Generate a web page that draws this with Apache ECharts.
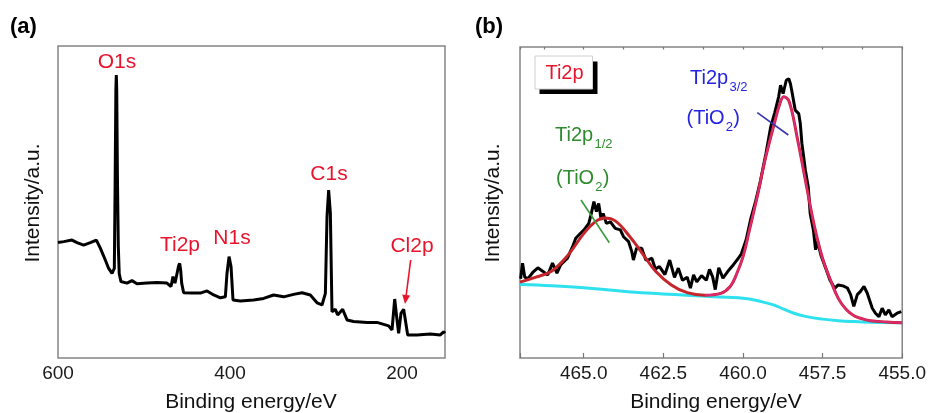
<!DOCTYPE html>
<html>
<head>
<meta charset="utf-8">
<script src="https://cdn.jsdelivr.net/npm/echarts@6/dist/echarts.min.js"></script>
<style>
html,body{margin:0;padding:0;background:#fff;}
#chart{width:929px;height:413px;}
</style>
</head>
<body>
<div id="chart"></div>
<script>
// ---------- Panel (a): XPS survey ----------
var surveyE = [600, 593.4, 583.7, 577.9, 570.2, 562.4, 555.4, 550.8, 545.0, 541.1, 537.2, 534.5, 533.6, 532.7, 532.2, 531.7, 530.9, 529.9, 528.8, 526.8, 519.8, 514.0, 508.2, 496.5, 484.9, 473.3, 468.6, 466.3, 464.8, 464.0, 461.6, 459.8, 458.5, 457.3, 456.2, 453.9, 444.2, 434.5, 426.7, 419.0, 411.2, 405.4, 403.5, 401.1, 398.8, 396.5, 388.0, 372.5, 360.9, 349.3, 337.6, 326.0, 316.3, 306.6, 298.8, 293.0, 289.1, 287.2, 285.3, 283.3, 281.4, 277.5, 274.8, 269.0, 263.9, 256.2, 240.7, 229.1, 215.5, 211.6, 208.5, 205.8, 203.9, 201.2, 198.1, 196.1, 193.4, 182.6, 167.1, 155.5, 151.6, 150];
var surveyI = [37.0, 37.3, 37.8, 37.0, 36.2, 37.0, 37.8, 35.2, 31.4, 28.7, 27.1, 28.7, 55.0, 86.0, 90.7, 86.0, 58.0, 36.0, 27.0, 24.5, 24.0, 24.8, 23.8, 24.0, 24.2, 24.0, 22.9, 26.1, 26.6, 24.0, 27.1, 29.5, 30.3, 28.0, 24.0, 20.9, 20.8, 20.8, 21.5, 20.2, 19.3, 19.6, 27.1, 32.5, 29.3, 18.6, 18.3, 18.6, 19.1, 20.2, 19.6, 20.4, 20.9, 20.2, 17.7, 17.0, 20.7, 45.3, 53.8, 46.4, 14.8, 15.6, 13.8, 15.6, 12.2, 11.7, 11.4, 11.4, 10.3, 9.0, 18.9, 12.2, 7.9, 14.3, 15.6, 12.2, 7.4, 7.4, 7.7, 7.4, 8.4, 7.9];

// ---------- Panel (b): Ti2p high resolution ----------
var rawE = [466.98, 466.92, 466.85, 466.75, 466.6, 466.44, 466.3, 466.13, 465.98, 465.84, 465.72, 465.51, 465.35, 465.25, 465.10, 464.99, 464.84, 464.76, 464.68, 464.60, 464.53, 464.45, 464.39, 464.29, 464.16, 464.01, 463.85, 463.75, 463.59, 463.49, 463.44, 463.34, 463.18, 463.05, 462.96, 462.86, 462.75, 462.62, 462.45, 462.3, 462.15, 462.03, 461.9, 461.75, 461.65, 461.55, 461.45, 461.3, 461.15, 461.05, 460.95, 460.87, 460.76, 460.63, 460.48, 460.3, 460.15, 460.05, 459.9, 459.75, 459.6, 459.45, 459.28, 459.13, 459.0, 458.88, 458.82, 458.74, 458.64, 458.56, 458.51, 458.46, 458.36, 458.25, 458.20, 458.15, 458.04, 457.95, 457.89, 457.79, 457.72, 457.66, 457.55, 457.48, 457.37, 457.27, 457.12, 457.01, 456.86, 456.72, 456.62, 456.52, 456.41, 456.31, 456.2, 456.1, 455.94, 455.84, 455.73, 455.63, 455.53, 455.42, 455.32, 455.16, 455.03];
var rawI = [25.5, 30.5, 26.0, 25.5, 27.5, 29.0, 28.0, 26.7, 30.5, 27.3, 30.0, 32.1, 35.8, 38.5, 40.1, 41.2, 43.3, 46.5, 50.3, 47.1, 49.7, 44.4, 46.5, 43.3, 43.8, 41.7, 41.2, 39.0, 37.4, 34.2, 31.5, 35.3, 35.3, 31.5, 31.6, 32.1, 28.6, 29.4, 26.8, 31.5, 25.9, 28.9, 25.0, 26.0, 22.5, 26.7, 24.5, 26.5, 25.0, 28.5, 26.0, 22.0, 29.0, 25.7, 27.8, 30.0, 32.0, 33.5, 38.0, 45.0, 50.5, 57.0, 65.7, 74.3, 79.0, 84.0, 87.7, 85.0, 89.3, 89.8, 88.2, 85.5, 79.7, 78.6, 75.4, 69.0, 60.4, 55.0, 46.5, 41.2, 34.8, 37.5, 33.0, 31.0, 28.0, 25.1, 22.4, 23.5, 23.2, 22.5, 20.4, 16.6, 20.4, 21.4, 23.0, 20.9, 16.0, 14.4, 13.3, 16.0, 13.9, 15.5, 13.3, 14.4, 14.9];

var fitE = [467.0, 466.5, 466.0, 465.5, 465.0, 464.65, 464.35, 464.0, 463.55, 463.15, 462.75, 462.25, 461.75, 461.2, 460.7, 460.4, 460.2, 460.0, 459.8, 459.55, 459.3, 459.0, 458.85, 458.72, 458.55, 458.3, 458.0, 457.75, 457.5, 457.25, 457.0, 456.75, 456.5, 456.25, 456.0, 455.5, 455.0];
var fitI = [24.4, 26.0, 28.0, 33.0, 40.0, 43.7, 45.0, 44.0, 39.0, 33.5, 28.0, 23.5, 21.0, 20.2, 20.8, 23.0, 27.0, 32.5, 41.0, 52.0, 64.0, 76.0, 81.5, 84.0, 82.5, 71.0, 55.0, 42.0, 32.0, 25.0, 19.0, 15.5, 13.5, 12.6, 12.0, 11.6, 11.3];

var compE = [461.2, 460.7, 460.4, 460.2, 460.0, 459.8, 459.55, 459.3, 459.0, 458.85, 458.72, 458.55, 458.3, 458.0, 457.75, 457.5, 457.25, 457.0, 456.75, 456.5, 456.25, 456.0, 455.5, 455.0];
var compI = [20.2, 20.8, 23.0, 27.0, 32.5, 41.0, 52.0, 64.0, 76.0, 81.5, 84.0, 82.5, 71.0, 55.0, 42.0, 32.0, 25.0, 19.0, 15.5, 13.5, 12.6, 12.0, 11.6, 11.3];

var bgE = [467.0, 466.0, 465.0, 464.0, 463.0, 462.0, 461.3, 460.5, 460.0, 459.6, 459.3, 459.0, 458.7, 458.4, 458.0, 457.5, 457.0, 456.5, 456.0, 455.0];
var bgI = [23.6, 23.2, 22.6, 21.7, 20.9, 20.3, 19.9, 19.5, 19.2, 18.6, 17.8, 16.9, 15.6, 14.4, 13.3, 12.5, 12.0, 11.7, 11.5, 11.3];

// tick labels
var surveyTicks = [600, 400, 200];
var ti2pTicks = [465.0, 462.5, 460.0, 457.5, 455.0];

function zip(a, b) { return a.map(function (x, i) { return [x, b[i]]; }); }

var FONT = "'Liberation Sans', Arial, Helvetica, sans-serif";
var RED = '#e8142d';
var BLUE = '#2424e0';
var GREEN = '#2e8b2e';

var chart = echarts.init(document.getElementById('chart'), null, { renderer: 'canvas' });

function txt(text, x, y, size, color, opts) {
  opts = opts || {};
  return {
    type: 'text', x: x, y: y, rotation: opts.rotation || 0, z: 100,
    style: {
      text: text, fill: color, font: (opts.bold ? 'bold ' : '') + size + 'px ' + FONT,
      textAlign: opts.align || 'center', textVerticalAlign: 'middle'
    }
  };
}

var option = {
  backgroundColor: '#fff',
  animation: false,
  grid: [
    { left: 58, top: 46, width: 387, height: 312, show: true, borderColor: '#858585', borderWidth: 1.5, backgroundColor: 'transparent' },
    { left: 520, top: 47, width: 387, height: 311, show: true, borderColor: '#858585', borderWidth: 1.5, backgroundColor: 'transparent' }
  ],
  xAxis: [
    {
      type: 'value', gridIndex: 0, min: 150, max: 600, interval: 50, inverse: true,
      axisLine: { show: false }, axisTick: { show: false }, splitLine: { show: false },
      axisLabel: {
        margin: 6, color: '#1a1a1a', fontSize: 19, fontFamily: FONT,
        formatter: function (v) { return surveyTicks.indexOf(v) >= 0 ? String(v) : ''; }
      }
    },
    {
      type: 'value', gridIndex: 1, min: 455, max: 467, interval: 2.5, inverse: true,
      axisLine: { show: false }, splitLine: { show: false },
      axisTick: { show: true, inside: true, length: 5, lineStyle: { color: '#777', width: 1.2 } },
      axisLabel: {
        margin: 6, color: '#1a1a1a', fontSize: 19, fontFamily: FONT,
        formatter: function (v) {
          for (var i = 0; i < ti2pTicks.length; i++) { if (Math.abs(ti2pTicks[i] - v) < 1e-6) return v.toFixed(1); }
          return '';
        }
      }
    },
    {
      type: 'value', gridIndex: 1, min: 455, max: 467, interval: 1.25, inverse: true,
      axisLine: { show: false }, splitLine: { show: false }, axisLabel: { show: false },
      axisTick: { show: true, inside: true, length: 2.5, lineStyle: { color: '#777', width: 1.2 } }
    }
  ],
  yAxis: [
    { type: 'value', gridIndex: 0, min: 0, max: 100, show: false },
    { type: 'value', gridIndex: 1, min: 0, max: 100, show: false }
  ],
  series: [
    {
      type: 'line', xAxisIndex: 0, yAxisIndex: 0, data: zip(surveyE, surveyI),
      showSymbol: false, lineStyle: { color: '#000', width: 3 }, z: 5
    },
    {
      type: 'line', xAxisIndex: 1, yAxisIndex: 1, data: zip(bgE, bgI), smooth: 0.4,
      showSymbol: false, lineStyle: { color: '#2fe0ee', width: 3 }, z: 3
    },
    {
      type: 'line', xAxisIndex: 1, yAxisIndex: 1, data: zip(rawE, rawI),
      showSymbol: false, lineStyle: { color: '#000', width: 3 }, z: 4
    },
    {
      type: 'line', xAxisIndex: 1, yAxisIndex: 1, data: zip(fitE, fitI), smooth: 0.4,
      showSymbol: false, lineStyle: { color: '#c4262c', width: 3 }, z: 5
    },
    {
      type: 'line', xAxisIndex: 1, yAxisIndex: 1, data: zip(compE, compI), smooth: 0.4,
      showSymbol: false, lineStyle: { color: '#e0287a', width: 1.8 }, z: 6
    }
  ],
  graphic: [
    // panel letters
    txt('(a)', 10, 27, 22, '#000', { bold: true, align: 'left' }),
    txt('(b)', 475, 27, 22, '#000', { bold: true, align: 'left' }),
    // axis titles
    txt('Intensity/a.u.', 33, 203, 21, '#111', { rotation: Math.PI / 2 }),
    txt('Intensity/a.u.', 493, 203, 21, '#111', { rotation: Math.PI / 2 }),
    txt('Binding energy/eV', 251, 402, 21, '#111'),
    txt('Binding energy/eV', 716, 402, 21, '#111'),
    // panel (a) peak labels
    txt('O1s', 117, 62, 21, RED),
    txt('Ti2p', 180, 245, 21, RED),
    txt('N1s', 232, 238, 21, RED),
    txt('C1s', 329, 174, 21, RED),
    txt('Cl2p', 412, 246, 21, RED),
    { type: 'line', z: 100, shape: { x1: 410.7, y1: 260, x2: 406.2, y2: 295 }, style: { stroke: RED, lineWidth: 1.6 } },
    { type: 'polygon', z: 100, shape: { points: [[405, 304], [410.1, 295.6], [402.2, 294.6]] }, style: { fill: RED } },
    // panel (b) legend box
    { type: 'rect', z: 90, shape: { x: 539.5, y: 61.5, width: 58, height: 32.5 }, style: { fill: '#000' } },
    { type: 'rect', z: 91, shape: { x: 535, y: 56, width: 57.5, height: 33 }, style: { fill: '#fff', stroke: '#d0d0d0', lineWidth: 1 } },
    txt('Ti2p', 564.5, 73, 20, RED),
    // Ti2p3/2 label (blue)
    txt('Ti2p', 690, 78.5, 20, BLUE, { align: 'left' }),
    txt('3/2', 729.5, 87.5, 13, BLUE, { align: 'left' }),
    txt('(TiO', 686.5, 118.5, 20, BLUE, { align: 'left' }),
    txt('2', 725.8, 127, 13, BLUE, { align: 'left' }),
    txt(')', 733.2, 118.5, 20, BLUE, { align: 'left' }),
    { type: 'line', z: 100, shape: { x1: 757.3, y1: 112.7, x2: 788.3, y2: 135 }, style: { stroke: '#3535b0', lineWidth: 1.6 } },
    // Ti2p1/2 label (green)
    txt('Ti2p', 555, 135, 20, GREEN, { align: 'left' }),
    txt('1/2', 594.5, 144, 13, GREEN, { align: 'left' }),
    txt('(TiO', 556, 178.5, 20, GREEN, { align: 'left' }),
    txt('2', 595.3, 187, 13, GREEN, { align: 'left' }),
    txt(')', 602.7, 178.5, 20, GREEN, { align: 'left' }),
    { type: 'line', z: 100, shape: { x1: 581, y1: 200, x2: 609.3, y2: 242.7 }, style: { stroke: '#3a9a3a', lineWidth: 1.6 } }
  ]
};
chart.setOption(option);
</script>
</body>
</html>
